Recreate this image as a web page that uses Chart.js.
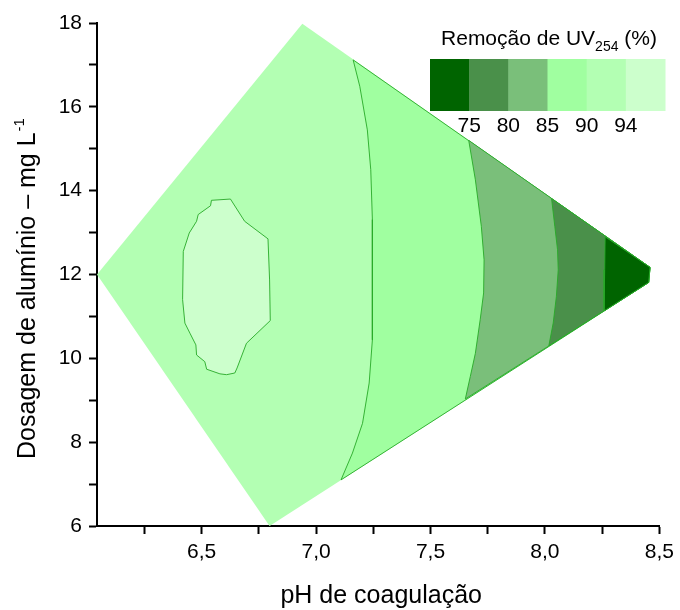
<!DOCTYPE html>
<html>
<head>
<meta charset="utf-8">
<script src="https://cdn.jsdelivr.net/npm/chart.js@4/dist/chart.umd.min.js"></script>
<style>
  html, body { margin: 0; padding: 0; background: #fff; }
  #wrap { width: 680px; height: 610px; }
</style>
</head>
<body>
<div id="wrap"><canvas id="ch"></canvas></div>
<script>
/* ── Data (pH de coagulação × dosagem de alumínio) ───────────── */

// experimental domain (diamond), pH / dose
const regionPh   = [6.043, 6.94, 8.459, 8.453, 6.797];
const regionDose = [12.0, 17.98, 12.17, 11.81, 6.0];

// contour lines (top edge → bottom edge)
const c90Ph   = [7.162, 7.191, 7.224, 7.239, 7.246, 7.246, 7.246, 7.232, 7.203, 7.159, 7.109];
const c90Dose = [17.12, 16.49, 15.45, 14.50, 13.31, 12.16, 10.44, 9.41, 8.45, 7.74, 7.10];
const c85Ph   = [7.667, 7.696, 7.722, 7.734, 7.732, 7.717, 7.696, 7.674, 7.652];
const c85Dose = [15.20, 14.26, 13.15, 12.35, 11.56, 10.92, 10.12, 9.57, 9.03];
const c80Ph   = [8.029, 8.043, 8.055, 8.058, 8.050, 8.036, 8.017];
const c80Dose = [13.81, 13.15, 12.59, 12.11, 11.48, 10.84, 10.30];
const c75Ph   = [8.263, 8.261, 8.258];
const c75Dose = [12.90, 12.11, 11.13];

// closed island above 94 %
const c94Ph   = [6.543, 6.626, 6.688, 6.790, 6.797, 6.800, 6.696, 6.655, 6.645, 6.609, 6.580, 6.522,
                 6.514, 6.478, 6.475, 6.449, 6.427, 6.417, 6.420, 6.446, 6.478, 6.485, 6.539];
const c94Dose = [13.77, 13.80, 13.27, 12.85, 11.87, 10.90, 10.36, 9.77, 9.65, 9.61, 9.63, 9.74,
                 9.92, 10.08, 10.32, 10.60, 10.84, 11.40, 12.55, 12.99, 13.27, 13.43, 13.64];

// axes
const xTicks = [6.25, 6.5, 6.75, 7.0, 7.25, 7.5, 7.75, 8.0, 8.25, 8.5];
const yTicks = [6, 7, 8, 9, 10, 11, 12, 13, 14, 15, 16, 17, 18];

// colour scale (lowest → highest removal)
const legendColors = ['#006400', '#4a904a', '#7abf7a', '#a0ffa0', '#b3ffb3', '#ccffcc'];
const legendLabels = ['75', '80', '85', '90', '94'];

const FONT = '"Liberation Sans", Arial, sans-serif';
const LINE = 'rgba(40,170,40,0.9)';

/* ── helpers ── */
const pts = (xs, ys) => xs.map((x, i) => ({ x, y: ys[i] }));
const closed = arr => arr.concat([arr[0]]);

// band to the right of a contour: contour + the right tip of the domain
function band(xs, ys) {
  const p = pts(xs, ys);
  p.push({ x: regionPh[3], y: regionDose[3] }, { x: regionPh[2], y: regionDose[2] });
  return closed(p);
}

function poly(data, color, order, border) {
  return {
    data, order,
    showLine: true, tension: 0, pointRadius: 0, pointHoverRadius: 0,
    fill: 'shape', backgroundColor: color,
    borderColor: border ? LINE : 'rgba(0,0,0,0)',
    borderWidth: border ? 1 : 0,
  };
}

/* ── Axis titles + colour bar ── */
const overlay = {
  id: 'overlay',
  afterDraw(chart) {
    const { ctx, chartArea: a } = chart;
    ctx.save();
    ctx.fillStyle = '#000';
    ctx.textBaseline = 'alphabetic';

    // x title
    ctx.font = `25px ${FONT}`;
    ctx.textAlign = 'center';
    ctx.fillText('pH de coagulação', (a.left + a.right) / 2 + 3, 603);

    // y title with superscript
    ctx.save();
    ctx.translate(35, 289);
    ctx.rotate(-Math.PI / 2);
    const main = 'Dosagem de alumínio – mg L', sup = '-1';
    ctx.font = `25px ${FONT}`;
    const w1 = ctx.measureText(main).width;
    ctx.font = `15px ${FONT}`;
    const w2 = ctx.measureText(sup).width;
    const x0 = -(w1 + w2) / 2;
    ctx.textAlign = 'left';
    ctx.font = `25px ${FONT}`;
    ctx.fillText(main, x0, 0);
    ctx.font = `15px ${FONT}`;
    ctx.fillText(sup, x0 + w1 + 1, -11);
    ctx.restore();

    // colour bar
    const bx = 430, by = 59, bw = 235 / legendColors.length, bh = 52;
    legendColors.forEach((c, i) => {
      ctx.fillStyle = c;
      ctx.fillRect(bx + i * bw, by, bw + 0.5, bh);
    });
    ctx.fillStyle = '#000';
    ctx.font = `21px ${FONT}`;
    ctx.textAlign = 'center';
    legendLabels.forEach((t, i) => ctx.fillText(t, bx + (i + 1) * bw, 132));

    // colour bar title "Remoção de UV254 (%)"
    const t1 = 'Remoção de UV', t2 = '254', t3 = ' (%)';
    ctx.font = `21px ${FONT}`;
    const a1 = ctx.measureText(t1).width, a3 = ctx.measureText(t3).width;
    ctx.font = `14px ${FONT}`;
    const a2 = ctx.measureText(t2).width;
    let tx = 549 - (a1 + a2 + a3) / 2;
    ctx.textAlign = 'left';
    ctx.font = `21px ${FONT}`;
    ctx.fillText(t1, tx, 45);
    ctx.font = `14px ${FONT}`;
    ctx.fillText(t2, tx + a1, 51);
    ctx.font = `21px ${FONT}`;
    ctx.fillText(t3, tx + a1 + a2, 45);
    ctx.restore();
  }
};

Chart.defaults.font.family = FONT;
Chart.defaults.font.size = 21;
Chart.defaults.color = '#000';

new Chart(document.getElementById('ch'), {
  type: 'scatter',
  data: {
    datasets: [
      poly(closed(pts(regionPh, regionDose)), legendColors[4], 6, false),
      poly(band(c90Ph, c90Dose), legendColors[3], 5, true),
      poly(band(c85Ph, c85Dose), legendColors[2], 4, true),
      poly(band(c80Ph, c80Dose), legendColors[1], 3, true),
      poly(band(c75Ph, c75Dose), legendColors[0], 2, true),
      poly(closed(pts(c94Ph, c94Dose)), legendColors[5], 1, true),
    ]
  },
  options: {
    responsive: true, maintainAspectRatio: false, animation: false,
    layout: { padding: { left: 0, top: 23, right: 18, bottom: 0 } },
    plugins: { legend: { display: false }, tooltip: { enabled: false } },
    scales: {
      x: {
        type: 'linear', position: 'bottom', min: 6.043, max: 8.5,
        afterBuildTicks: s => { s.ticks = xTicks.map(v => ({ value: v })); },
        afterFit: s => { s.height = 84; },
        border: { color: '#000', width: 2 },
        grid: { drawOnChartArea: false, tickLength: 8, tickColor: '#000', tickWidth: 2 },
        ticks: {
          padding: 6, maxRotation: 0, autoSkip: false,
          callback: v => (Math.round(v * 2) === v * 2) ? v.toFixed(1).replace('.', ',') : ''
        }
      },
      y: {
        type: 'linear', min: 6, max: 18,
        afterBuildTicks: s => { s.ticks = yTicks.map(v => ({ value: v })); },
        afterFit: s => { s.width = 97; },
        border: { color: '#000', width: 2 },
        grid: { drawOnChartArea: false, tickLength: 8, tickColor: '#000', tickWidth: 2 },
        ticks: {
          padding: 7, autoSkip: false,
          callback: v => (v % 2 === 0) ? String(v) : ''
        }
      }
    }
  },
  plugins: [overlay]
});
</script>
</body>
</html>
